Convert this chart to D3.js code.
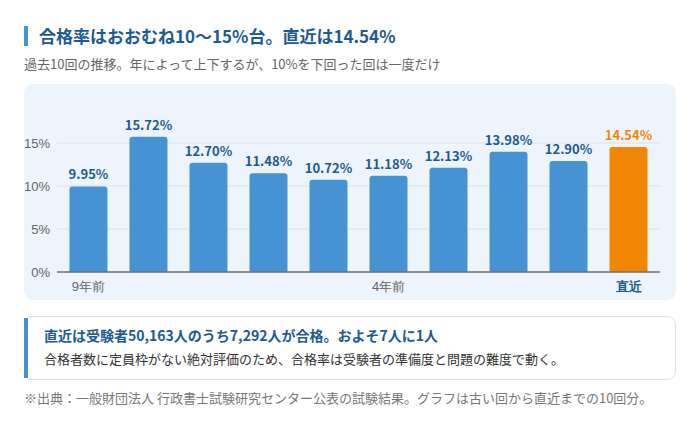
<!DOCTYPE html>
<html>
<head>
<meta charset="utf-8">
<script src="https://cdn.jsdelivr.net/npm/d3@7"></script>
<style>
  body { margin: 0; background: #fff; }
  svg { display: block; font-family: "Noto Sans CJK JP", "Noto Sans", sans-serif; }
</style>
</head>
<body>
<div class="chart"></div>
<script>
// data
let rounds = ["9年前", "8年前", "7年前", "6年前", "5年前", "4年前", "3年前", "2年前", "1年前", "直近"];
let rates = [9.95, 15.72, 12.70, 11.48, 10.72, 11.18, 12.13, 13.98, 12.90, 14.54];
let shownTicks = ["9年前", "4年前", "直近"];
let yTicks = [0, 5, 10, 15];

let width = 700, height = 422;
let blue = "#4593d2", orange = "#f28705", navy = "#1d5a93";

const svg = d3.select(".chart")
  .append("svg")
  .attr("width", width)
  .attr("height", height);

// title
svg.append("rect").attr("x", 24).attr("y", 26).attr("width", 4).attr("height", 20).attr("fill", blue);
svg.append("text").attr("x", 39).attr("y", 43)
  .attr("font-size", 17).attr("font-weight", 700).attr("fill", navy)
  .text("合格率はおおむね10〜15%台。直近は14.54%");
svg.append("text").attr("x", 24).attr("y", 69)
  .attr("font-size", 13).attr("fill", "#666")
  .text("過去10回の推移。年によって上下するが、10%を下回った回は一度だけ");

// panel
svg.append("rect").attr("x", 24).attr("y", 84).attr("width", 652).attr("height", 216)
  .attr("rx", 9).attr("fill", "#edf4fb");

let x = d3.scaleBand()
  .domain(rounds)
  .range([57, 660])
  .paddingInner(0.367)
  .paddingOuter(0.208);

let y = d3.scaleLinear()
  .domain([0, 18])
  .range([272, 117.2]);

// grid
svg.append("g")
  .selectAll("line")
  .data(yTicks.filter(d => d > 0))
  .join("line")
  .attr("x1", 57).attr("x2", 660)
  .attr("y1", d => y(d)).attr("y2", d => y(d))
  .attr("stroke", "#d9e4ee").attr("stroke-width", 1);

// y axis labels
let yAxis = svg.append("g")
  .attr("transform", "translate(57,0)")
  .call(d3.axisLeft(y).tickValues(yTicks).tickFormat(d => d + "%").tickSize(0).tickPadding(7));
yAxis.select(".domain").remove();
yAxis.selectAll("text").attr("font-size", 13).attr("fill", "#666").attr("font-family", null);

// bars, rounded top
let r = 3;
function barPath(d, i) {
  let x0 = x(rounds[i]), w = x.bandwidth(), y0 = y(d), y1 = y(0);
  return "M" + x0 + "," + y1 + "V" + (y0 + r) + "Q" + x0 + "," + y0 + " " + (x0 + r) + "," + y0 +
    "H" + (x0 + w - r) + "Q" + (x0 + w) + "," + y0 + " " + (x0 + w) + "," + (y0 + r) + "V" + y1 + "Z";
}
svg.append("g")
  .selectAll("path")
  .data(rates)
  .join("path")
  .attr("d", barPath)
  .attr("fill", (d, i) => i === rates.length - 1 ? orange : blue);

// value labels
svg.append("g")
  .selectAll("text")
  .data(rates)
  .join("text")
  .attr("x", (d, i) => x(rounds[i]) + x.bandwidth() / 2)
  .attr("y", d => y(d) - 7)
  .attr("text-anchor", "middle")
  .attr("font-size", 13).attr("font-weight", 700)
  .attr("fill", (d, i) => i === rates.length - 1 ? orange : navy)
  .text(d => d.toFixed(2) + "%");

// baseline
svg.append("line").attr("x1", 57).attr("x2", 660).attr("y1", y(0)).attr("y2", y(0))
  .attr("stroke", "#6f6f6f").attr("stroke-width", 1.5);

// x labels
let xAxis = svg.append("g")
  .attr("transform", "translate(0," + y(0) + ")")
  .call(d3.axisBottom(x).tickValues(shownTicks).tickSize(0).tickPadding(10));
xAxis.select(".domain").remove();
xAxis.selectAll("text")
  .attr("font-size", 13).attr("font-family", null)
  .attr("fill", d => d === "直近" ? navy : "#666")
  .attr("font-weight", d => d === "直近" ? 700 : 400);

// note box
svg.append("rect").attr("x", 24.5).attr("y", 316.5).attr("width", 651).attr("height", 63)
  .attr("rx", 8).attr("fill", "#fff").attr("stroke", "#d3e3f1");
svg.append("rect").attr("x", 24).attr("y", 318).attr("width", 4).attr("height", 60).attr("fill", blue);
svg.append("text").attr("x", 44).attr("y", 341)
  .attr("font-size", 14).attr("font-weight", 700).attr("fill", navy)
  .text("直近は受験者50,163人のうち7,292人が合格。およそ7人に1人");
svg.append("text").attr("x", 44).attr("y", 364)
  .attr("font-size", 13).attr("fill", "#333")
  .text("合格者数に定員枠がない絶対評価のため、合格率は受験者の準備度と問題の難度で動く。");

// source
svg.append("text").attr("x", 24).attr("y", 403)
  .attr("font-size", 13).attr("fill", "#777")
  .text("※出典：一般財団法人 行政書士試験研究センター公表の試験結果。グラフは古い回から直近までの10回分。");
</script>
</body>
</html>
